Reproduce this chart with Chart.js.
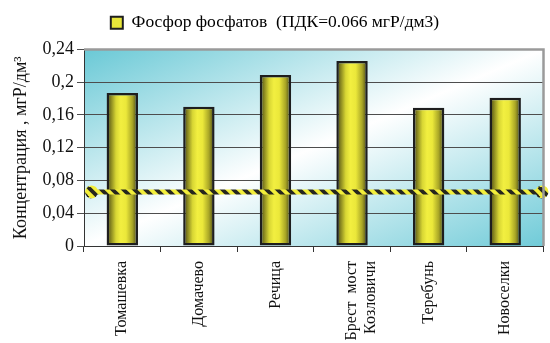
<!DOCTYPE html>
<html>
<head>
<meta charset="utf-8">
<script src="https://cdn.jsdelivr.net/npm/chart.js@4/dist/chart.umd.min.js"></script>
<style>
  html, body { margin: 0; padding: 0; background: #fff; }
  #wrap { width: 550px; height: 343px; }
</style>
</head>
<body>
<div id="wrap"><canvas id="chart"></canvas></div>
<script>
const stations = ['Томашевка', 'Домачево', 'Речица', ['Брест  мост', 'Козловичи'], 'Теребунь', 'Новоселки'];
const phosphate = [0.187, 0.170, 0.209, 0.226, 0.169, 0.181];
const pdk = 0.066;
const pdkX = [0, 6];
const yTicks = { min: 0, max: 0.24, step: 0.04 };

const serif = 'Liberation Serif';
const barShare = 0.41;

// diagonal yellow/black stripes for the limit line
function stripePattern() {
    const n = 11;
    const c = document.createElement('canvas');
    c.width = n; c.height = n;
    const g = c.getContext('2d');
    g.fillStyle = '#f2ee3a';
    g.fillRect(0, 0, n, n);
    g.strokeStyle = '#26261e';
    g.lineWidth = 3.8;
    for (let k = -n; k <= 2 * n; k += n) {
        g.beginPath();
        g.moveTo(k, 0);
        g.lineTo(k + n, n);
        g.stroke();
    }
    return g.createPattern(c, 'repeat');
}
const stripes = stripePattern();

// cylinder shading for each bar, from the category scale
function barFill(ctx) {
    const chart = ctx.chart;
    const x = chart.scales.x;
    if (!chart.chartArea || !x || ctx.dataIndex === undefined) return '#e8e63a';
    const cx = x.getPixelForValue(ctx.dataIndex);
    const w = x.width / stations.length * barShare;
    const g = chart.ctx.createLinearGradient(cx - w / 2, 0, cx + w / 2, 0);
    g.addColorStop(0, '#3a3a18');
    g.addColorStop(0.12, '#7e7c1e');
    g.addColorStop(0.3, '#d8d634');
    g.addColorStop(0.45, '#f2ef40');
    g.addColorStop(0.62, '#ebe83a');
    g.addColorStop(0.82, '#a9a626');
    g.addColorStop(1, '#3c3c16');
    return g;
}

// extra space under the legend
const legendGap = {
    id: 'legendGap',
    beforeInit(chart) {
        const fit = chart.legend.fit;
        chart.legend.fit = function () {
            fit.call(this);
            this.height += 8;
        };
    }
};

// plot area background and frame
const plotBackground = {
    id: 'plotBackground',
    beforeDraw(chart) {
        const { ctx, chartArea: a } = chart;
        const w = a.right - a.left, h = a.bottom - a.top;
        const cx = a.left + w / 2, cy = a.top + h / 2;
        // gradient runs across the bottom-left / top-right diagonal
        const len = Math.hypot(w, h);
        const ux = h / len, uy = w / len;
        const half = (w / 2) * ux + (h / 2) * uy;
        const g = ctx.createLinearGradient(cx - ux * half, cy - uy * half, cx + ux * half, cy + uy * half);
        g.addColorStop(0, '#6ac9d6');
        g.addColorStop(0.5, '#ffffff');
        g.addColorStop(1, '#70cbd8');
        ctx.save();
        ctx.fillStyle = g;
        ctx.fillRect(a.left, a.top, w, h);
        ctx.restore();
    },
    afterDatasetsDraw(chart) {
        const { ctx, chartArea: a } = chart;
        ctx.save();
        ctx.strokeStyle = '#9a9a9a';
        ctx.lineWidth = 2.5;
        ctx.beginPath();
        ctx.moveTo(a.left, a.top);
        ctx.lineTo(a.right, a.top);
        ctx.lineTo(a.right, a.bottom);
        ctx.stroke();
        ctx.restore();
    }
};

new Chart(document.getElementById('chart'), {
    type: 'bar',
    data: {
        labels: stations,
        datasets: [{
            type: 'line',
            label: 'ПДК',
            xAxisID: 'x2',
            data: pdkX.map(v => ({ x: v, y: pdk })),
            borderColor: stripes,
            borderWidth: 5,
            pointRadius: 6.5,
            pointBackgroundColor: stripes,
            pointBorderWidth: 0,
            clip: false,
            order: 0
        }, {
            type: 'bar',
            label: 'Фосфор фосфатов  (ПДК=0.066 мгР/дм3)',
            data: phosphate,
            backgroundColor: barFill,
            borderColor: '#1e1e1e',
            borderWidth: 2.5,
            borderSkipped: false,
            grouped: false,
            categoryPercentage: 1,
            barPercentage: barShare,
            order: 1
        }]
    },
    options: {
        responsive: true,
        maintainAspectRatio: false,
        animation: false,
        layout: { padding: { top: 4, right: 0, left: 0, bottom: 0 } },
        plugins: {
            legend: {
                position: 'top',
                labels: {
                    color: '#111',
                    font: { family: serif, size: 17.5 },
                    boxWidth: 12,
                    boxHeight: 12,
                    padding: 10,
                    generateLabels: () => [{
                        text: 'Фосфор фосфатов  (ПДК=0.066 мгР/дм3)',
                        fillStyle: '#e8e63a',
                        strokeStyle: '#1e1e1e',
                        lineWidth: 2,
                        datasetIndex: 1
                    }]
                }
            },
            tooltip: { enabled: false }
        },
        scales: {
            x: {
                afterFit: s => { s.height = 97; s.paddingLeft = 0; s.paddingRight = 2; },
                grid: { drawOnChartArea: false, drawTicks: true, tickLength: 6, color: '#333', offset: true },
                border: { color: '#333', width: 1 },
                ticks: {
                    color: '#111',
                    font: { family: serif, size: 16 },
                    minRotation: 90,
                    maxRotation: 90,
                    padding: 9
                }
            },
            x2: {
                type: 'linear',
                display: false,
                offset: false,
                min: -0.1,
                max: 6.02
            },
            y: {
                min: yTicks.min,
                max: yTicks.max,
                afterFit: s => { s.width = 84; },
                title: {
                    display: true,
                    text: 'Концентрация , мгР/дм³',
                    color: '#111',
                    font: { family: serif, size: 18 },
                    padding: { top: 10, bottom: 2 }
                },
                grid: { color: '#4d4d4d', tickLength: 7, drawTicks: true },
                border: { color: '#333', width: 1 },
                ticks: {
                    stepSize: yTicks.step,
                    color: '#111',
                    font: { family: serif, size: 18 },
                    padding: 3,
                    callback: v => String(+v.toFixed(2)).replace('.', ',')
                }
            }
        }
    },
    plugins: [plotBackground, legendGap]
});
</script>
</body>
</html>
